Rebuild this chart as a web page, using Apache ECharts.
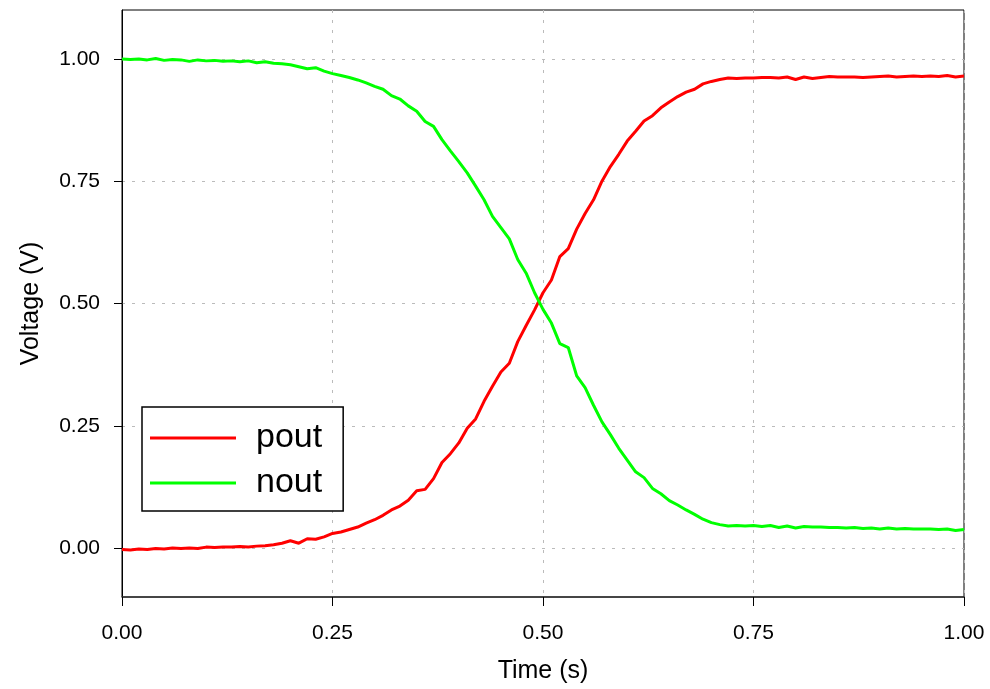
<!DOCTYPE html>
<html>
<head>
<meta charset="utf-8">
<script src="https://cdn.jsdelivr.net/npm/echarts@6/dist/echarts.min.js"></script>
<style>
  html, body { margin: 0; padding: 0; background: #fff; }
  #chart { width: 990px; height: 689px; }
</style>
</head>
<body>
<div id="chart"></div>
<script>
// time samples (s), one every 0.01 s
const time = [];
for (let i = 0; i <= 100; i++) time.push(i / 100);

// pout trace
const pout = [
  -0.003, -0.004, -0.002, -0.003, -0.001, -0.002, 0.000, -0.001, 0.000, -0.001,
  0.002, 0.001, 0.002, 0.002, 0.003, 0.002, 0.004, 0.005, 0.007, 0.010,
  0.015, 0.010, 0.019, 0.018, 0.023, 0.030, 0.033, 0.038, 0.043, 0.051,
  0.058, 0.067, 0.078, 0.086, 0.098, 0.117, 0.120, 0.142, 0.175, 0.193,
  0.215, 0.245, 0.264, 0.300, 0.331, 0.360, 0.378, 0.422, 0.455, 0.487,
  0.522, 0.548, 0.596, 0.612, 0.652, 0.684, 0.712, 0.750, 0.780, 0.805,
  0.832, 0.852, 0.873, 0.884, 0.900, 0.912, 0.923, 0.932, 0.938, 0.949,
  0.954, 0.958, 0.961, 0.960, 0.961, 0.961, 0.962, 0.962, 0.961, 0.963,
  0.958, 0.963, 0.960, 0.962, 0.964, 0.963, 0.963, 0.963, 0.962, 0.963,
  0.964, 0.965, 0.963, 0.964, 0.965, 0.964, 0.965, 0.964, 0.966, 0.963,
  0.965
];

// nout trace
const nout = [
  1.000, 0.999, 1.000, 0.998, 1.001, 0.997, 0.999, 0.998, 0.995, 0.998,
  0.996, 0.997, 0.995, 0.996, 0.994, 0.996, 0.992, 0.994, 0.991, 0.990,
  0.988, 0.984, 0.980, 0.982, 0.975, 0.970, 0.966, 0.962, 0.957, 0.951,
  0.944, 0.938, 0.925, 0.918, 0.904, 0.893, 0.872, 0.862, 0.835, 0.812,
  0.790, 0.767, 0.740, 0.712, 0.678, 0.655, 0.632, 0.590, 0.562, 0.522,
  0.488, 0.460, 0.418, 0.410, 0.352, 0.328, 0.292, 0.258, 0.232, 0.204,
  0.180, 0.156, 0.144, 0.122, 0.111, 0.097, 0.088, 0.078, 0.069, 0.059,
  0.052, 0.048, 0.045, 0.046, 0.045, 0.046, 0.044, 0.046, 0.042, 0.045,
  0.041, 0.044, 0.043, 0.043, 0.042, 0.042, 0.041, 0.042, 0.040, 0.041,
  0.039, 0.041, 0.039, 0.040, 0.039, 0.039, 0.039, 0.038, 0.039, 0.036,
  0.038
];

const yTicks = [0, 0.25, 0.5, 0.75, 1];

const font = "Liberation Sans, Arial, sans-serif";
const gridLine = { show: true, lineStyle: { color: "#bbb", type: [3, 7], width: 1 } };

const chart = echarts.init(document.getElementById("chart"));
chart.setOption({
  animation: false,
  backgroundColor: "#fff",
  grid: {
    left: 122, right: 26, top: 10, bottom: 91,
    show: true, borderColor: "#000", borderWidth: 1
  },
  legend: {
    orient: "vertical",
    left: 142, top: 407,
    padding: [14, 21, 11, 8],
    icon: "rect",
    itemWidth: 86, itemHeight: 3, itemGap: 11,
    borderColor: "#000", borderWidth: 1.5, backgroundColor: "#fff",
    textStyle: { fontSize: 34, lineHeight: 32, color: "#000", fontFamily: font, padding: [0, 0, 0, 15] },
    data: ["pout", "nout"]
  },
  xAxis: {
    type: "value", min: 0, max: 1, interval: 0.25,
    name: "Time (s)", nameLocation: "middle", nameGap: 62,
    nameTextStyle: { fontSize: 25, color: "#000", fontFamily: font },
    axisLine: { onZero: false, lineStyle: { color: "#333", width: 1.5 } },
    axisTick: { inside: false, length: 9, lineStyle: { color: "#000" } },
    axisLabel: { fontSize: 21, color: "#000", fontFamily: font, margin: 26,
      formatter: (v) => v.toFixed(2) },
    splitLine: gridLine
  },
  yAxis: {
    type: "value", min: -0.1, max: 1.1,
    name: "Voltage (V)", nameLocation: "middle", nameGap: 78,
    nameTextStyle: { fontSize: 25, color: "#000", fontFamily: font },
    axisLine: { show: true, onZero: false, lineStyle: { color: "#000", width: 1 } },
    axisTick: { show: true, length: 8, customValues: yTicks, lineStyle: { color: "#000" } },
    axisLabel: { fontSize: 21, color: "#000", fontFamily: font, margin: 22,
      customValues: yTicks, formatter: (v) => v.toFixed(2) },
    splitLine: gridLine
  },
  series: [
    {
      name: "pout", type: "line", symbol: "none",
      lineStyle: { color: "#ff0000", width: 3 }, itemStyle: { color: "#ff0000" },
      data: time.map((t, i) => [t, pout[i]])
    },
    {
      name: "nout", type: "line", symbol: "none",
      lineStyle: { color: "#00ff00", width: 3 }, itemStyle: { color: "#00ff00" },
      data: time.map((t, i) => [t, nout[i]])
    }
  ]
});
</script>
</body>
</html>
